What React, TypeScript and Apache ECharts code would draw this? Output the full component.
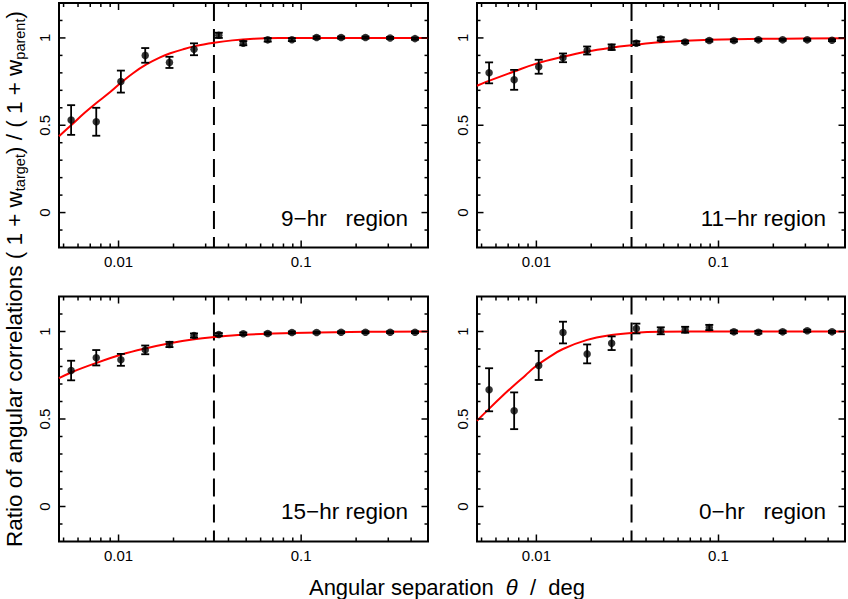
import React, { useEffect, useRef } from 'react';
import * as echarts from 'echarts';

// ---- data ----
const thetaBins = [0.0055, 0.00755, 0.0103, 0.014, 0.019, 0.0259, 0.0354, 0.0482, 0.0656, 0.089, 0.1215, 0.1655, 0.225, 0.307, 0.42];

const ratio9 = [0.53, 0.52, 0.75, 0.9, 0.86, 0.935, 1.015, 0.97, 0.989, 0.99, 1.002, 1.002, 1.002, 1.0, 0.996];
const err9 = [0.085, 0.08, 0.063, 0.042, 0.032, 0.034, 0.015, 0.012, 0.01, 0.008, 0.007, 0.006, 0.006, 0.006, 0.006];

const ratio11 = [0.8, 0.76, 0.835, 0.886, 0.928, 0.947, 0.97, 0.994, 0.977, 0.985, 0.985, 0.989, 0.989, 0.989, 0.987];
const err11 = [0.06, 0.057, 0.04, 0.025, 0.023, 0.016, 0.011, 0.01, 0.007, 0.006, 0.006, 0.006, 0.005, 0.005, 0.005];

const ratio15 = [0.777, 0.85, 0.838, 0.895, 0.926, 0.977, 0.983, 0.987, 0.989, 0.994, 0.994, 0.996, 0.996, 0.996, 0.996];
const err15 = [0.056, 0.044, 0.034, 0.025, 0.015, 0.012, 0.008, 0.007, 0.006, 0.006, 0.005, 0.005, 0.005, 0.005, 0.005];

const ratio0 = [0.667, 0.547, 0.806, 0.994, 0.872, 0.933, 1.017, 1.004, 1.01, 1.023, 0.998, 0.996, 0.998, 1.004, 0.998];
const err0 = [0.123, 0.105, 0.083, 0.062, 0.054, 0.039, 0.028, 0.02, 0.017, 0.015, 0.008, 0.008, 0.007, 0.006, 0.006];

// fitted model curves
const fit9Theta = [0.00472, 0.0055, 0.0065, 0.0075, 0.009, 0.0103, 0.012, 0.0142, 0.017, 0.0192, 0.0226, 0.0263, 0.0333, 0.042, 0.055, 0.075, 0.12, 0.495];
const fit9 = [0.437, 0.5, 0.57, 0.625, 0.69, 0.743, 0.798, 0.848, 0.89, 0.912, 0.935, 0.953, 0.972, 0.986, 0.995, 0.999, 1.0, 1.0];

const fit11Theta = [0.00472, 0.0053, 0.00755, 0.01, 0.014, 0.019, 0.0258, 0.0333, 0.048, 0.09, 0.23, 0.495];
const fit11 = [0.726, 0.748, 0.808, 0.853, 0.892, 0.922, 0.944, 0.958, 0.975, 0.989, 0.996, 0.998];

const fit15Theta = [0.00472, 0.0055, 0.0075, 0.0103, 0.014, 0.0191, 0.026, 0.0333, 0.0484, 0.09, 0.2285, 0.495];
const fit15 = [0.733, 0.766, 0.819, 0.867, 0.903, 0.933, 0.956, 0.968, 0.981, 0.992, 0.998, 1.0];

const fit0Theta = [0.00472, 0.0053, 0.0065, 0.00755, 0.0087, 0.0098, 0.0118, 0.014, 0.019, 0.0258, 0.0333, 0.048, 0.1, 0.495];
const fit0 = [0.49, 0.542, 0.631, 0.693, 0.749, 0.797, 0.855, 0.9, 0.952, 0.98, 0.992, 0.999, 1.0, 1.0];

const thetaCut = 0.0333;

const regionLabels = ['9\u2212hr   region', '11\u2212hr region', '15\u2212hr region', '0\u2212hr   region'];

const xTickLabels = [0.01, 0.1];
const xMinorTicks = [0.005, 0.006, 0.007, 0.008, 0.009, 0.02, 0.03, 0.04, 0.05, 0.06, 0.07, 0.08, 0.09, 0.2, 0.3, 0.4];
const yTickLabels = [0, 0.5, 1];
const yMinorTicks = [-0.1, 0.1, 0.2, 0.3, 0.4, 0.6, 0.7, 0.8, 0.9, 1.1];

const xRange = [0.00472, 0.495];
const yRange = [-0.2, 1.2];

const xTitle = '{n|Angular separation  }{i|\u03b8}{n|  /  deg}';
const yTitle = '{m|Ratio of angular correlations ( 1 + w}{s|target}{m|) / ( 1 + w}{s|parent}{m|)}';

// ---- layout ----
const FONT = '"Liberation Sans", Arial, Helvetica, sans-serif';
const gridBoxes = [
  { left: 59, top: 3, width: 369, height: 244.5 },
  { left: 477, top: 3, width: 369, height: 244.5 },
  { left: 59, top: 296.5, width: 369, height: 245 },
  { left: 477, top: 296.5, width: 369, height: 245 },
];

const panels = [
  { ratio: ratio9, err: err9, fitTheta: fit9Theta, fit: fit9 },
  { ratio: ratio11, err: err11, fitTheta: fit11Theta, fit: fit11 },
  { ratio: ratio15, err: err15, fitTheta: fit15Theta, fit: fit15 },
  { ratio: ratio0, err: err0, fitTheta: fit0Theta, fit: fit0 },
];

function matchLog(v: number, list: number[]) {
  for (const L of list) if (Math.abs(Math.log10(v) - Math.log10(L)) < 1e-6) return String(L);
  return '';
}
function matchLin(v: number, list: number[]) {
  for (const L of list) if (Math.abs(v - L) < 1e-6) return String(L);
  return '';
}

function buildOption() {
  const grid = gridBoxes.map((g) => ({
    ...g,
    show: true,
    borderColor: '#000',
    borderWidth: 2,
    backgroundColor: 'transparent',
    containLabel: false,
  }));

  const xAxis = gridBoxes.map((_, i) => ({
    type: 'log',
    logBase: 10,
    gridIndex: i,
    min: xRange[0],
    max: xRange[1],
    axisLine: { show: false },
    axisTick: { show: false },
    splitLine: { show: false },
    minorTick: { show: false },
    axisLabel: {
      show: true,
      margin: 6,
      color: '#000',
      fontSize: 15,
      fontFamily: FONT,
      formatter: (v: number) => matchLog(v, xTickLabels),
    },
  }));

  const yAxis = gridBoxes.map((_, i) => ({
    type: 'value',
    gridIndex: i,
    min: yRange[0],
    max: yRange[1],
    interval: 0.1,
    axisLine: { show: false },
    axisTick: { show: false },
    splitLine: { show: false },
    axisLabel: {
      show: true,
      rotate: 90,
      margin: 7,
      color: '#000',
      fontSize: 15,
      fontFamily: FONT,
      formatter: (v: number) => matchLin(v, yTickLabels),
    },
  }));

  const series: any[] = [];
  panels.forEach((p, i) => {
    // vertical dashed line at the cut scale, top to bottom of the frame
    series.push({
      type: 'line',
      xAxisIndex: i,
      yAxisIndex: i,
      data: [
        [thetaCut, yRange[1]],
        [thetaCut, yRange[0]],
      ],
      showSymbol: false,
      symbol: 'none',
      lineStyle: { color: '#000', width: 2, type: [18, 8] },
      z: 2,
      silent: true,
    });
    // fitted model curve
    series.push({
      type: 'line',
      xAxisIndex: i,
      yAxisIndex: i,
      data: p.fitTheta.map((t, k) => [t, p.fit[k]]),
      smooth: 0.4,
      showSymbol: false,
      symbol: 'none',
      lineStyle: { color: '#ff0000', width: 2 },
      z: 3,
      silent: true,
    });
    // error bars
    series.push({
      type: 'custom',
      xAxisIndex: i,
      yAxisIndex: i,
      dimensions: ['x', 'y', 'e'],
      encode: { x: 0, y: 1 },
      data: thetaBins.map((t, k) => [t, p.ratio[k], p.err[k]]),
      z: 4,
      silent: true,
      renderItem: (params: any, api: any) => {
        const x = api.value(0);
        const y = api.value(1);
        const e = api.value(2);
        const hi = api.coord([x, y + e]);
        const lo = api.coord([x, y - e]);
        const w = 4;
        const st = { stroke: '#000', lineWidth: 1.8 };
        return {
          type: 'group',
          children: [
            { type: 'line', shape: { x1: hi[0], y1: hi[1], x2: lo[0], y2: lo[1] }, style: st },
            { type: 'line', shape: { x1: hi[0] - w, y1: hi[1], x2: hi[0] + w, y2: hi[1] }, style: st },
            { type: 'line', shape: { x1: lo[0] - w, y1: lo[1], x2: lo[0] + w, y2: lo[1] }, style: st },
          ],
        };
      },
    });
    // data points
    series.push({
      type: 'scatter',
      xAxisIndex: i,
      yAxisIndex: i,
      data: thetaBins.map((t, k) => [t, p.ratio[k]]),
      symbol: 'circle',
      symbolSize: 7.5,
      itemStyle: { color: '#000' },
      z: 5,
      silent: true,
    });
    // inward ticks on all four sides
    series.push({
      type: 'custom',
      xAxisIndex: i,
      yAxisIndex: i,
      data: [[0.01, 0]],
      z: 6,
      silent: true,
      renderItem: (params: any, api: any) => {
        const cs = params.coordSys;
        const left = cs.x;
        const right = cs.x + cs.width;
        const top = cs.y;
        const bottom = cs.y + cs.height;
        const st = { stroke: '#000', lineWidth: 1.5 };
        const children: any[] = [];
        const ln = (x1: number, y1: number, x2: number, y2: number) =>
          children.push({ type: 'line', shape: { x1, y1, x2, y2 }, style: st });
        const addX = (v: number, len: number) => {
          const px = api.coord([v, 0.5])[0];
          ln(px, bottom, px, bottom - len);
          ln(px, top, px, top + len);
        };
        const addY = (v: number, len: number) => {
          const py = api.coord([0.01, v])[1];
          ln(left, py, left + len, py);
          ln(right, py, right - len, py);
        };
        xTickLabels.forEach((v) => addX(v, 7));
        xMinorTicks.forEach((v) => addX(v, 4));
        yTickLabels.forEach((v) => addY(v, 6.5));
        yMinorTicks.forEach((v) => addY(v, 3.5));
        return { type: 'group', children };
      },
    });
  });

  const graphic: any[] = gridBoxes.map((g, i) => ({
    type: 'text',
    x: g.left + g.width - 20,
    y: g.top + 215,
    silent: true,
    style: {
      text: regionLabels[i],
      fill: '#000',
      fontSize: 22.5,
      fontFamily: FONT,
      align: 'right',
      textAlign: 'right',
      verticalAlign: 'middle',
      textVerticalAlign: 'middle',
    },
  }));

  graphic.push({
    type: 'text',
    x: 447,
    y: 587,
    silent: true,
    style: {
      text: xTitle,
      fill: '#000',
      fontSize: 22,
      fontFamily: FONT,
      align: 'center',
      textAlign: 'center',
      verticalAlign: 'middle',
      textVerticalAlign: 'middle',
      rich: {
        n: { fontSize: 22, fontFamily: FONT, fill: '#000' },
        i: { fontSize: 22, fontFamily: FONT, fontStyle: 'italic', fill: '#000' },
      },
    },
  });

  graphic.push({
    type: 'text',
    x: 14,
    y: 279,
    rotation: Math.PI / 2,
    silent: true,
    style: {
      text: yTitle,
      fill: '#000',
      fontSize: 22.5,
      fontFamily: FONT,
      align: 'center',
      textAlign: 'center',
      verticalAlign: 'middle',
      textVerticalAlign: 'middle',
      rich: {
        m: { fontSize: 22.5, lineHeight: 26, fontFamily: FONT, fill: '#000' },
        s: { fontSize: 14.5, lineHeight: 14, verticalAlign: 'bottom', fontFamily: FONT, fill: '#000' },
      },
    },
  });

  return {
    animation: false,
    backgroundColor: '#ffffff',
    grid,
    xAxis,
    yAxis,
    series,
    graphic,
  };
}

export default function App() {
  const ref = useRef<HTMLDivElement>(null);
  useEffect(() => {
    if (!ref.current) return;
    const chart = echarts.init(ref.current, null, { renderer: 'svg' });
    chart.setOption(buildOption() as any);
    return () => chart.dispose();
  }, []);
  return (
    <div
      ref={ref}
      style={{ position: 'fixed', left: 0, top: 0, width: 848, height: 599, background: '#fff' }}
    />
  );
}
